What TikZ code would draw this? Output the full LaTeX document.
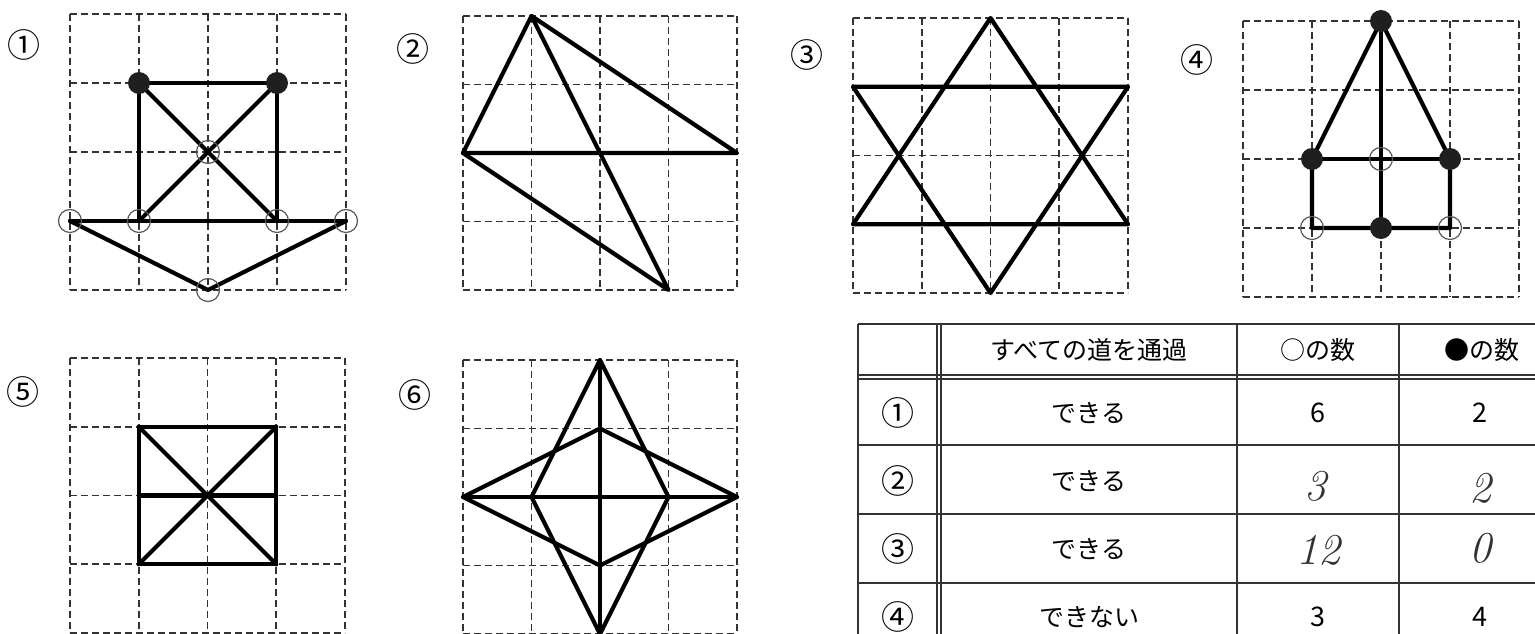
\documentclass[tikz,border=0pt]{standalone}
\usepackage{fontspec}
\newfontfamily\jpfont{Noto Sans CJK JP}
\newcommand\mkgrid[4]{%
  \foreach \i in {0,...,4}{\foreach \j in {0,...,4}{\coordinate (#1-\i-\j) at ({#2+\i*#4},{#3+\j*#4});}}%
  \foreach \k in {0,...,4}{\draw[gridline] (#1-\k-0) -- (#1-\k-4); \draw[gridline] (#1-0-\k) -- (#1-4-\k);}%
}
\begin{document}
\begin{tikzpicture}[x=1pt,y=-1pt,
  gridline/.style={black!80, line width=1.6pt, dash pattern=on 7pt off 4pt},
  edge/.style={black, line width=4.2pt, line cap=round, line join=round},
  fdot/.style={circle, fill=black!88, minimum size=22pt, inner sep=0pt},
  odot/.style={circle, draw=black!65, line width=1.2pt, minimum size=23pt, inner sep=0pt},
  lbl/.style={font=\jpfont\fontsize{33}{33}\selectfont, inner sep=0pt},
  cell/.style={font=\jpfont\fontsize{25}{25}\selectfont, inner sep=0pt},
  digit/.style={font=\jpfont\fontsize{27}{27}\selectfont, inner sep=0pt},
  hand/.style={font=\itshape\fontsize{44}{44}\selectfont, inner sep=0pt, text=black!80},
  tline/.style={black!80, line width=1.8pt}]
\useasboundingbox (0,0) rectangle (1535,634);
\fill[white] (0,0) rectangle (1535,634);
% grids
\mkgrid{A}{70}{14}{69}
\mkgrid{B}{463}{16}{68.5}
\mkgrid{C}{853}{18}{68.75}
\mkgrid{D}{1243}{21}{69}
\mkgrid{E}{70}{358}{68.75}
\mkgrid{F}{463}{360}{68.5}
% figure 1
\draw[edge] (A-1-1) -- (A-3-1) -- (A-3-3);
\draw[edge] (A-1-1) -- (A-1-3);
\draw[edge] (A-1-1) -- (A-3-3);
\draw[edge] (A-3-1) -- (A-1-3);
\draw[edge] (A-0-3) -- (A-4-3);
\draw[edge] (A-0-3) -- (A-2-4) -- (A-4-3);
\node[fdot] (a1) at (A-1-1) {};
\node[fdot] (a2) at (A-3-1) {};
\node[odot] (a3) at (A-2-2) {};
\node[odot] (a4) at (A-0-3) {};
\node[odot] (a5) at (A-1-3) {};
\node[odot] (a6) at (A-3-3) {};
\node[odot] (a7) at (A-4-3) {};
\node[odot] (a8) at (A-2-4) {};
% figure 2
\draw[edge] (B-1-0) -- (B-0-2) -- (B-4-2) -- cycle;
\draw[edge] (B-1-0) -- (B-3-4) -- (B-0-2);
% figure 3
\draw[edge] (C-2-0) -- (C-0-3) -- (C-4-3) -- cycle;
\draw[edge] (C-0-1) -- (C-4-1) -- (C-2-4) -- cycle;
% figure 4
\draw[edge] (D-2-0) -- (D-1-2) -- (D-1-3) -- (D-3-3) -- (D-3-2) -- cycle;
\draw[edge] (D-1-2) -- (D-3-2);
\draw[edge] (D-2-0) -- (D-2-3);
\node[fdot] (d1) at (D-2-0) {};
\node[fdot] (d2) at (D-1-2) {};
\node[fdot] (d3) at (D-3-2) {};
\node[fdot] (d4) at (D-2-3) {};
\node[odot] (d5) at (D-2-2) {};
\node[odot] (d6) at (D-1-3) {};
\node[odot] (d7) at (D-3-3) {};
% figure 5
\draw[edge] (E-1-1) -- (E-3-1) -- (E-3-3) -- (E-1-3) -- cycle;
\draw[edge] (E-1-1) -- (E-3-3);
\draw[edge] (E-3-1) -- (E-1-3);
\draw[edge] (E-1-2) -- (E-3-2);
% figure 6
\draw[edge] (F-2-0) -- (F-1-2) -- (F-2-4) -- (F-3-2) -- cycle;
\draw[edge] (F-0-2) -- (F-2-1) -- (F-4-2) -- (F-2-3) -- cycle;
\draw[edge] (F-2-0) -- (F-2-4);
\draw[edge] (F-0-2) -- (F-4-2);
% figure labels
\node[lbl] (l1) at (24,45) {①};
\node[lbl] (l2) at (413,49) {②};
\node[lbl] (l3) at (807,55) {③};
\node[lbl] (l4) at (1197,60) {④};
\node[lbl] (l5) at (23,392) {⑤};
\node[lbl] (l6) at (415,395) {⑥};
% table
\draw[tline] (858,324) -- (1535,324);
\draw[tline] (858,375) -- (1535,375);
\draw[tline] (858,379) -- (1535,379);
\draw[tline] (858,445) -- (1535,445);
\draw[tline] (858,514) -- (1535,514);
\draw[tline] (858,583) -- (1535,583);
\draw[tline] (858,324) -- (858,634);
\draw[tline] (937,324) -- (937,634);
\draw[tline] (941,324) -- (941,634);
\draw[tline] (1237,324) -- (1237,634);
\draw[tline] (1399,324) -- (1399,634);
\node[cell] (h1) at (1089,350) {すべての道を通過};
\node[cell] (h2) at (1318,350) {○の数};
\node[cell] (h3) at (1482,350) {●の数};
\node[lbl] (r1) at (898,413) {①};
\node[lbl] (r2) at (898,481) {②};
\node[lbl] (r3) at (898,549) {③};
\node[lbl] (r4) at (898,617) {④};
\node[cell] (c11) at (1089,413) {できる};
\node[cell] (c21) at (1089,481) {できる};
\node[cell] (c31) at (1089,549) {できる};
\node[cell] (c41) at (1089,617) {できない};
\node[digit] (c12) at (1318,413) {6};
\node[digit] (c13) at (1480,413) {2};
\node[hand] (c22) at (1315,486) {3};
\node[hand] (c23) at (1480,488) {2};
\node[hand] (c32) at (1318,550) {12};
\node[hand] (c33) at (1480,548) {0};
\node[digit] (c42) at (1318,617) {3};
\node[digit] (c43) at (1480,617) {4};
\end{tikzpicture}
\end{document}
